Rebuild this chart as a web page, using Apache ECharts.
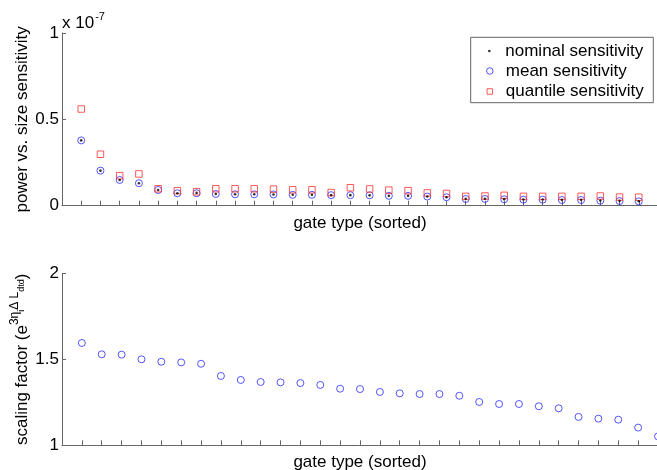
<!DOCTYPE html>
<html><head><meta charset="utf-8">
<script src="https://cdn.jsdelivr.net/npm/echarts@6/dist/echarts.min.js"></script>
<style>html,body{margin:0;padding:0;background:#fff}#c{width:657px;height:470px}</style>
</head><body><div id="c"></div>
<script>
// gate types, sorted (rank index)
const gateRank = [1,2,3,4,5,6,7,8,9,10,11,12,13,14,15,16,17,18,19,20,21,22,23,24,25,26,27,28,29,30];
// power vs. size sensitivity, in units of 1e-7
const nominalSens = [0.378,0.203,0.149,0.130,0.091,0.072,0.074,0.068,0.066,0.066,0.065,0.063,0.063,0.061,0.061,0.060,0.057,0.057,0.053,0.049,0.040,0.040,0.038,0.036,0.036,0.034,0.034,0.030,0.028,0.026];
const meanSens = [0.378,0.203,0.149,0.130,0.091,0.072,0.072,0.068,0.066,0.066,0.065,0.063,0.063,0.061,0.061,0.060,0.057,0.057,0.053,0.049,0.039,0.039,0.037,0.035,0.035,0.033,0.033,0.029,0.027,0.025];
const quantileSens = [0.560,0.298,0.174,0.184,0.098,0.087,0.081,0.098,0.098,0.098,0.096,0.092,0.092,0.076,0.104,0.097,0.090,0.087,0.074,0.071,0.054,0.056,0.060,0.054,0.054,0.054,0.054,0.056,0.050,0.049];
// scaling factor e^{3 eta_i dL_dtd}
const scalingFactor = [1.595,1.529,1.527,1.500,1.486,1.482,1.474,1.403,1.380,1.368,1.366,1.362,1.351,1.329,1.327,1.310,1.302,1.298,1.298,1.288,1.252,1.240,1.240,1.227,1.215,1.165,1.155,1.149,1.103,1.052];
const topYTicks = [0, 0.5, 1];
const bottomYTicks = [1, 1.5, 2];
const seriesNames = ['nominal sensitivity', 'mean sensitivity', 'quantile sensitivity'];

const FONT = 'Liberation Sans, Arial, Helvetica, sans-serif';
const AX = '#666';
const BLUE = '#2a2aff';
const RED = '#ff3030';
const CLEAR = 'rgba(255,255,255,0)';

const zip = (xs, ys) => xs.map((x, i) => [x, ys[i]]);

const xAxisBase = (max) => ({
  type: 'value', min: 0, max: max, interval: 1,
  axisLine: { show: true, onZero: false, lineStyle: { color: AX, width: 1 } },
  axisTick: { show: true, inside: true, length: 5, lineStyle: { color: AX } },
  axisLabel: { show: false },
  splitLine: { show: false },
  name: 'gate type (sorted)', nameLocation: 'middle', nameGap: 9,
  nameTextStyle: { fontFamily: FONT, fontSize: 17, color: '#000', verticalAlign: 'top' }
});
const yAxisBase = (ticks) => ({
  type: 'value', min: ticks[0], max: ticks[ticks.length - 1], interval: ticks[1] - ticks[0],
  axisLine: { show: true, onZero: false, lineStyle: { color: AX, width: 1 } },
  axisTick: { show: true, inside: true, length: 4, lineStyle: { color: AX } },
  axisLabel: { fontFamily: FONT, fontSize: 17, color: '#000', margin: 3 },
  splitLine: { show: false },
  nameLocation: 'middle', nameRotate: 90, nameMoveOverlap: false
});

const chart = echarts.init(document.getElementById('c'), null, { renderer: 'canvas' });
const legendRows = [51, 71, 91.5];
const legendIcon = [
  { icon: 'circle', w: 22, h: 2.6, pad: 0, style: { color: '#000', borderWidth: 0 } },
  { icon: 'circle', w: 22, h: 6.5, pad: 0, style: { color: CLEAR, borderColor: BLUE, borderWidth: 1 } },
  { icon: 'rect', w: 5.5, h: 5.5, pad: 8.3, style: { color: CLEAR, borderColor: RED, borderWidth: 1 } }
];
chart.setOption({
  animation: false,
  backgroundColor: '#fff',
  grid: [
    { left: 62, top: 33, width: 596, height: 172.7, containLabel: false, outerBoundsMode: 'none' },
    { left: 62, top: 273.3, width: 596, height: 172, containLabel: false, outerBoundsMode: 'none' }
  ],
  xAxis: [
    Object.assign(xAxisBase(31), { gridIndex: 0 }),
    Object.assign(xAxisBase(30), { gridIndex: 1 })
  ],
  yAxis: [
    Object.assign(yAxisBase(topYTicks), {
      gridIndex: 0, name: 'power vs. size sensitivity', nameGap: 31,
      nameTextStyle: { fontFamily: FONT, fontSize: 17, color: '#000' }
    }),
    Object.assign(yAxisBase(bottomYTicks), {
      gridIndex: 1, nameGap: 31,
      name: '{n|scaling factor (e}{s|3η}{ss|i}{s|Δ L}{ss|dtd}{n|)}',
      nameTextStyle: {
        fontFamily: FONT, fontSize: 17, color: '#000',
        rich: {
          n: { fontFamily: FONT, fontSize: 17, lineHeight: 22, verticalAlign: 'bottom', color: '#000' },
          s: { fontFamily: FONT, fontSize: 12, lineHeight: 12, verticalAlign: 'bottom', padding: [0, 0, 10, 0], color: '#000' },
          ss: { fontFamily: FONT, fontSize: 9, lineHeight: 9, verticalAlign: 'bottom', padding: [0, 0, 5, 0], color: '#000' }
        }
      }
    })
  ],
  legend: seriesNames.map((nm, i) => ({
    data: [{ name: nm, icon: legendIcon[i].icon, itemStyle: legendIcon[i].style }],
    left: 489.3 - legendIcon[i].h / 2, top: legendRows[i] - 10, padding: 0,
    itemWidth: legendIcon[i].w, itemHeight: legendIcon[i].h, itemGap: 5,
    symbolKeepAspect: true,
    selectedMode: false,
    itemStyle: legendIcon[i].style,
    textStyle: { fontFamily: FONT, fontSize: 17, color: '#000', lineHeight: 20, padding: [0, 0, 0, legendIcon[i].pad] }
  })),
  graphic: [
    { type: 'rect', shape: { x: 470.7, y: 37.3, width: 182.6, height: 65.4 },
      style: { fill: 'none', stroke: AX, lineWidth: 1 }, z: 0 },
    { type: 'text', left: 62, top: 11,
      style: {
        text: '{a|x 10}{b|-7}',
        rich: {
          a: { fontFamily: FONT, fontSize: 17, lineHeight: 20, verticalAlign: 'bottom', fill: '#000' },
          b: { fontFamily: FONT, fontSize: 11, lineHeight: 11, verticalAlign: 'bottom', padding: [0, 0, 10, 1], fill: '#000' }
        }
      }
    }
  ],
  series: [
    { name: seriesNames[0], type: 'scatter', xAxisIndex: 0, yAxisIndex: 0,
      data: zip(gateRank, nominalSens), symbol: 'circle', symbolSize: 2.6,
      itemStyle: { color: '#000' }, z: 3 },
    { name: seriesNames[1], type: 'scatter', xAxisIndex: 0, yAxisIndex: 0,
      data: zip(gateRank, meanSens), symbol: 'circle', symbolSize: 7,
      itemStyle: { color: CLEAR, borderColor: BLUE, borderWidth: 1 }, z: 2 },
    { name: seriesNames[2], type: 'scatter', xAxisIndex: 0, yAxisIndex: 0,
      data: zip(gateRank, quantileSens), symbol: 'rect', symbolSize: 6.5,
      itemStyle: { color: CLEAR, borderColor: RED, borderWidth: 1 }, z: 2 },
    { name: 'scaling factor', type: 'scatter', xAxisIndex: 1, yAxisIndex: 1,
      data: zip(gateRank, scalingFactor), symbol: 'circle', symbolSize: 7, clip: false,
      itemStyle: { color: CLEAR, borderColor: BLUE, borderWidth: 1 } }
  ]
});
</script>
</body></html>
